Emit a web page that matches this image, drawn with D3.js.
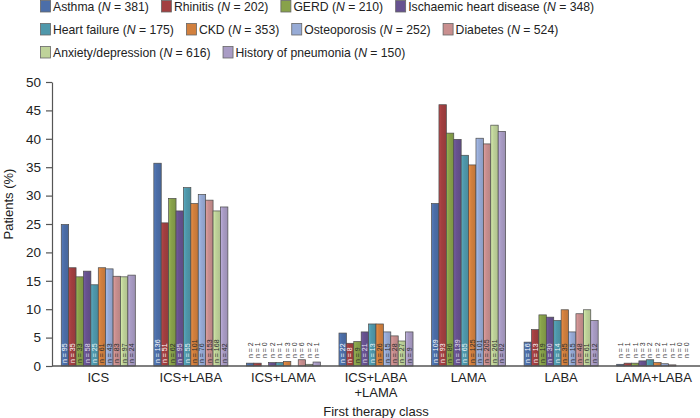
<!DOCTYPE html>
<html><head><meta charset="utf-8">
<script src="https://cdn.jsdelivr.net/npm/d3@7"></script>
<style>body{margin:0;background:#fff} svg{display:block}</style>
</head><body>
<svg id="chart" width="700" height="418"></svg>
<script>
// ---- data ----
const categories = ["ICS","ICS+LABA","ICS+LAMA","ICS+LABA+LAMA","LAMA","LABA","LAMA+LABA"];
const seriesNames = ["Asthma","Rhinitis","GERD","Ischaemic heart disease","Heart failure","CKD","Osteoporosis","Diabetes","Anxiety/depression","History of pneumonia"];
const seriesTotals = [381,202,210,348,175,353,252,524,616,150];
const yTicks = [0,5,10,15,20,25,30,35,40,45,50];

// percentage of patients per series, one array per therapy class
const pctICS        = [24.9,17.3,15.7,16.7,14.3,17.3,17.1,15.8,15.7,16.0];
const pctICSLABA    = [35.7,25.2,29.5,27.3,31.4,28.6,30.2,29.2,27.3,28.0];
const pctICSLAMA    = [0.5,0.5,0,0.6,0.6,0.8,0,1.1,0.3,0.7];
const pctTriple     = [5.8,4.0,4.3,6.0,7.4,7.4,6.0,5.3,4.4,6.0];
const pctLAMA       = [28.6,46.0,41.0,39.9,37.1,35.4,40.1,39.1,42.4,41.3];
const pctLABA       = [4.2,6.4,9.0,8.6,8.0,9.9,6.0,9.2,9.9,8.0];
const pctLAMALABA   = [0.3,0.5,0.5,0.9,1.1,0.6,0.4,0.2,0,0];

// patient counts (n) printed on the bars
const nICS        = [95,35,33,58,25,61,43,83,97,24];
const nICSLABA    = [136,51,62,95,55,101,76,153,168,42];
const nICSLAMA    = [2,1,0,2,1,3,0,6,2,1];
const nTriple     = [22,8,9,21,13,26,15,28,27,9];
const nLAMA       = [109,93,86,139,65,125,101,205,261,62];
const nLABA       = [16,13,19,30,14,35,15,48,61,12];
const nLAMALABA   = [1,1,1,3,2,2,1,1,0,0];

const pctByCat = [pctICS,pctICSLABA,pctICSLAMA,pctTriple,pctLAMA,pctLABA,pctLAMALABA];
const nByCat   = [nICS,nICSLABA,nICSLAMA,nTriple,nLAMA,nLABA,nLAMALABA];

// ---- styles ----
const colors = ["#4c6ea8","#a23f40","#88a24a","#675290","#4f98ab","#d2803e","#97abd6","#c98f8f","#bfd39a","#a99cc5"];
const labelColors = ["#ffffff","#ffffff","#2a2a2a","#e6e0f0","#eef6f8","#2a2a2a","#2a2a2a","#2a2a2a","#2a2a2a","#2a2a2a"];
const narrow = "'Liberation Sans Narrow','Arial Narrow','Liberation Sans',Arial,sans-serif";
const sans = "'Liberation Sans',Arial,Helvetica,sans-serif";

const svg = d3.select("#chart");
const margin = {left:52, right:700, top:82, bottom:366};

const x = d3.scaleBand().domain(categories).range([margin.left, margin.right]).paddingInner(0.2).paddingOuter(0.1);
const xi = d3.scaleBand().domain(d3.range(seriesNames.length)).range([0, x.bandwidth()]).padding(0);
const y = d3.scaleLinear().domain([0,50]).range([margin.bottom, margin.top]);

// gradients
const defs = svg.append("defs");
colors.forEach((c,i)=>{
  const g = defs.append("linearGradient").attr("id","g"+i).attr("x1","0").attr("x2","1").attr("y1","0").attr("y2","0");
  g.append("stop").attr("offset","0").attr("stop-color", d3.color(c).brighter(0.35));
  g.append("stop").attr("offset","0.35").attr("stop-color", c);
  g.append("stop").attr("offset","1").attr("stop-color", d3.color(c).darker(0.25));
});

// y axis
const yAxis = svg.append("g").attr("transform",`translate(${margin.left},0)`)
  .call(d3.axisLeft(y).tickValues(yTicks).tickSize(6).tickPadding(5).tickSizeOuter(0));
yAxis.select(".domain").attr("stroke","#555").attr("stroke-width",1.2);
yAxis.selectAll(".tick line").attr("stroke","#555").attr("stroke-width",1.2);
yAxis.selectAll(".tick text").attr("font-family",sans).attr("font-size",13.5).attr("fill","#222");

svg.append("text").attr("transform",`translate(13,204) rotate(-90)`)
  .attr("text-anchor","middle").attr("font-family",sans).attr("font-size",13).attr("fill","#222")
  .text("Patients (%)");

// bars
const groups = svg.append("g").selectAll("g").data(categories).join("g")
  .attr("transform", d=>`translate(${x(d)},0)`);

groups.each(function(cat, ci){
  const g = d3.select(this);
  const vals = pctByCat[ci], ns = nByCat[ci];
  const small = d3.max(vals) < 2;
  vals.forEach((v,si)=>{
    if (v > 0) {
      g.append("rect").attr("x", xi(si)).attr("width", xi.bandwidth())
        .attr("y", y(v)).attr("height", y(0)-y(v))
        .attr("fill", `url(#g${si})`).attr("stroke","#4a4a4a").attr("stroke-width",0.7);
    }
    const cx = xi(si) + xi.bandwidth()/2;
    const ty = small ? y(0) - 8 : y(0) - 3;
    g.append("text").attr("transform",`translate(${cx+2.4},${ty}) rotate(-90)`)
      .attr("font-family",narrow).attr("font-size",7)
      .attr("fill", small ? "#333" : labelColors[si])
      .text("n = " + ns[si]);
  });
});

// x axis baseline
svg.append("line").attr("x1",margin.left).attr("x2",700).attr("y1",y(0)).attr("y2",y(0))
  .attr("stroke","#555").attr("stroke-width",1.5);

// category labels
categories.forEach(c=>{
  const t = svg.append("text").attr("x", x(c)+x.bandwidth()/2).attr("y", 382)
    .attr("text-anchor","middle").attr("font-family",sans).attr("font-size",13).attr("fill","#222");
  if (c === "ICS+LABA+LAMA") {
    t.append("tspan").attr("x", x(c)+x.bandwidth()/2).attr("dy",0).text("ICS+LABA");
    t.append("tspan").attr("x", x(c)+x.bandwidth()/2).attr("dy",15).text("+LAMA");
  } else t.text(c);
});
svg.append("text").attr("x",(margin.left+700)/2).attr("y",416).attr("text-anchor","middle")
  .attr("font-family",sans).attr("font-size",13).attr("fill","#222").text("First therapy class");

// legend
const rows = [[0,1,2,3],[4,5,6,7],[8,9]];
rows.forEach((row,ri)=>{
  let lx = 40;
  const ly = 0 + ri*23;
  row.forEach(si=>{
    svg.append("rect").attr("x",lx+0.5).attr("y",ly+0.5).attr("width",10).attr("height",11.5)
      .attr("fill",colors[si]).attr("stroke","#666").attr("stroke-width",0.8);
    const t = svg.append("text").attr("x",lx+13).attr("y",ly+10.5)
      .attr("font-family",narrow).attr("font-size",12.2).attr("fill","#222");
    t.append("tspan").text(seriesNames[si] + " (");
    t.append("tspan").attr("font-style","italic").text("N");
    t.append("tspan").text(" = " + seriesTotals[si] + ")");
    lx += 13 + t.node().getComputedTextLength() + 12;
  });
});
</script>
</body></html>
